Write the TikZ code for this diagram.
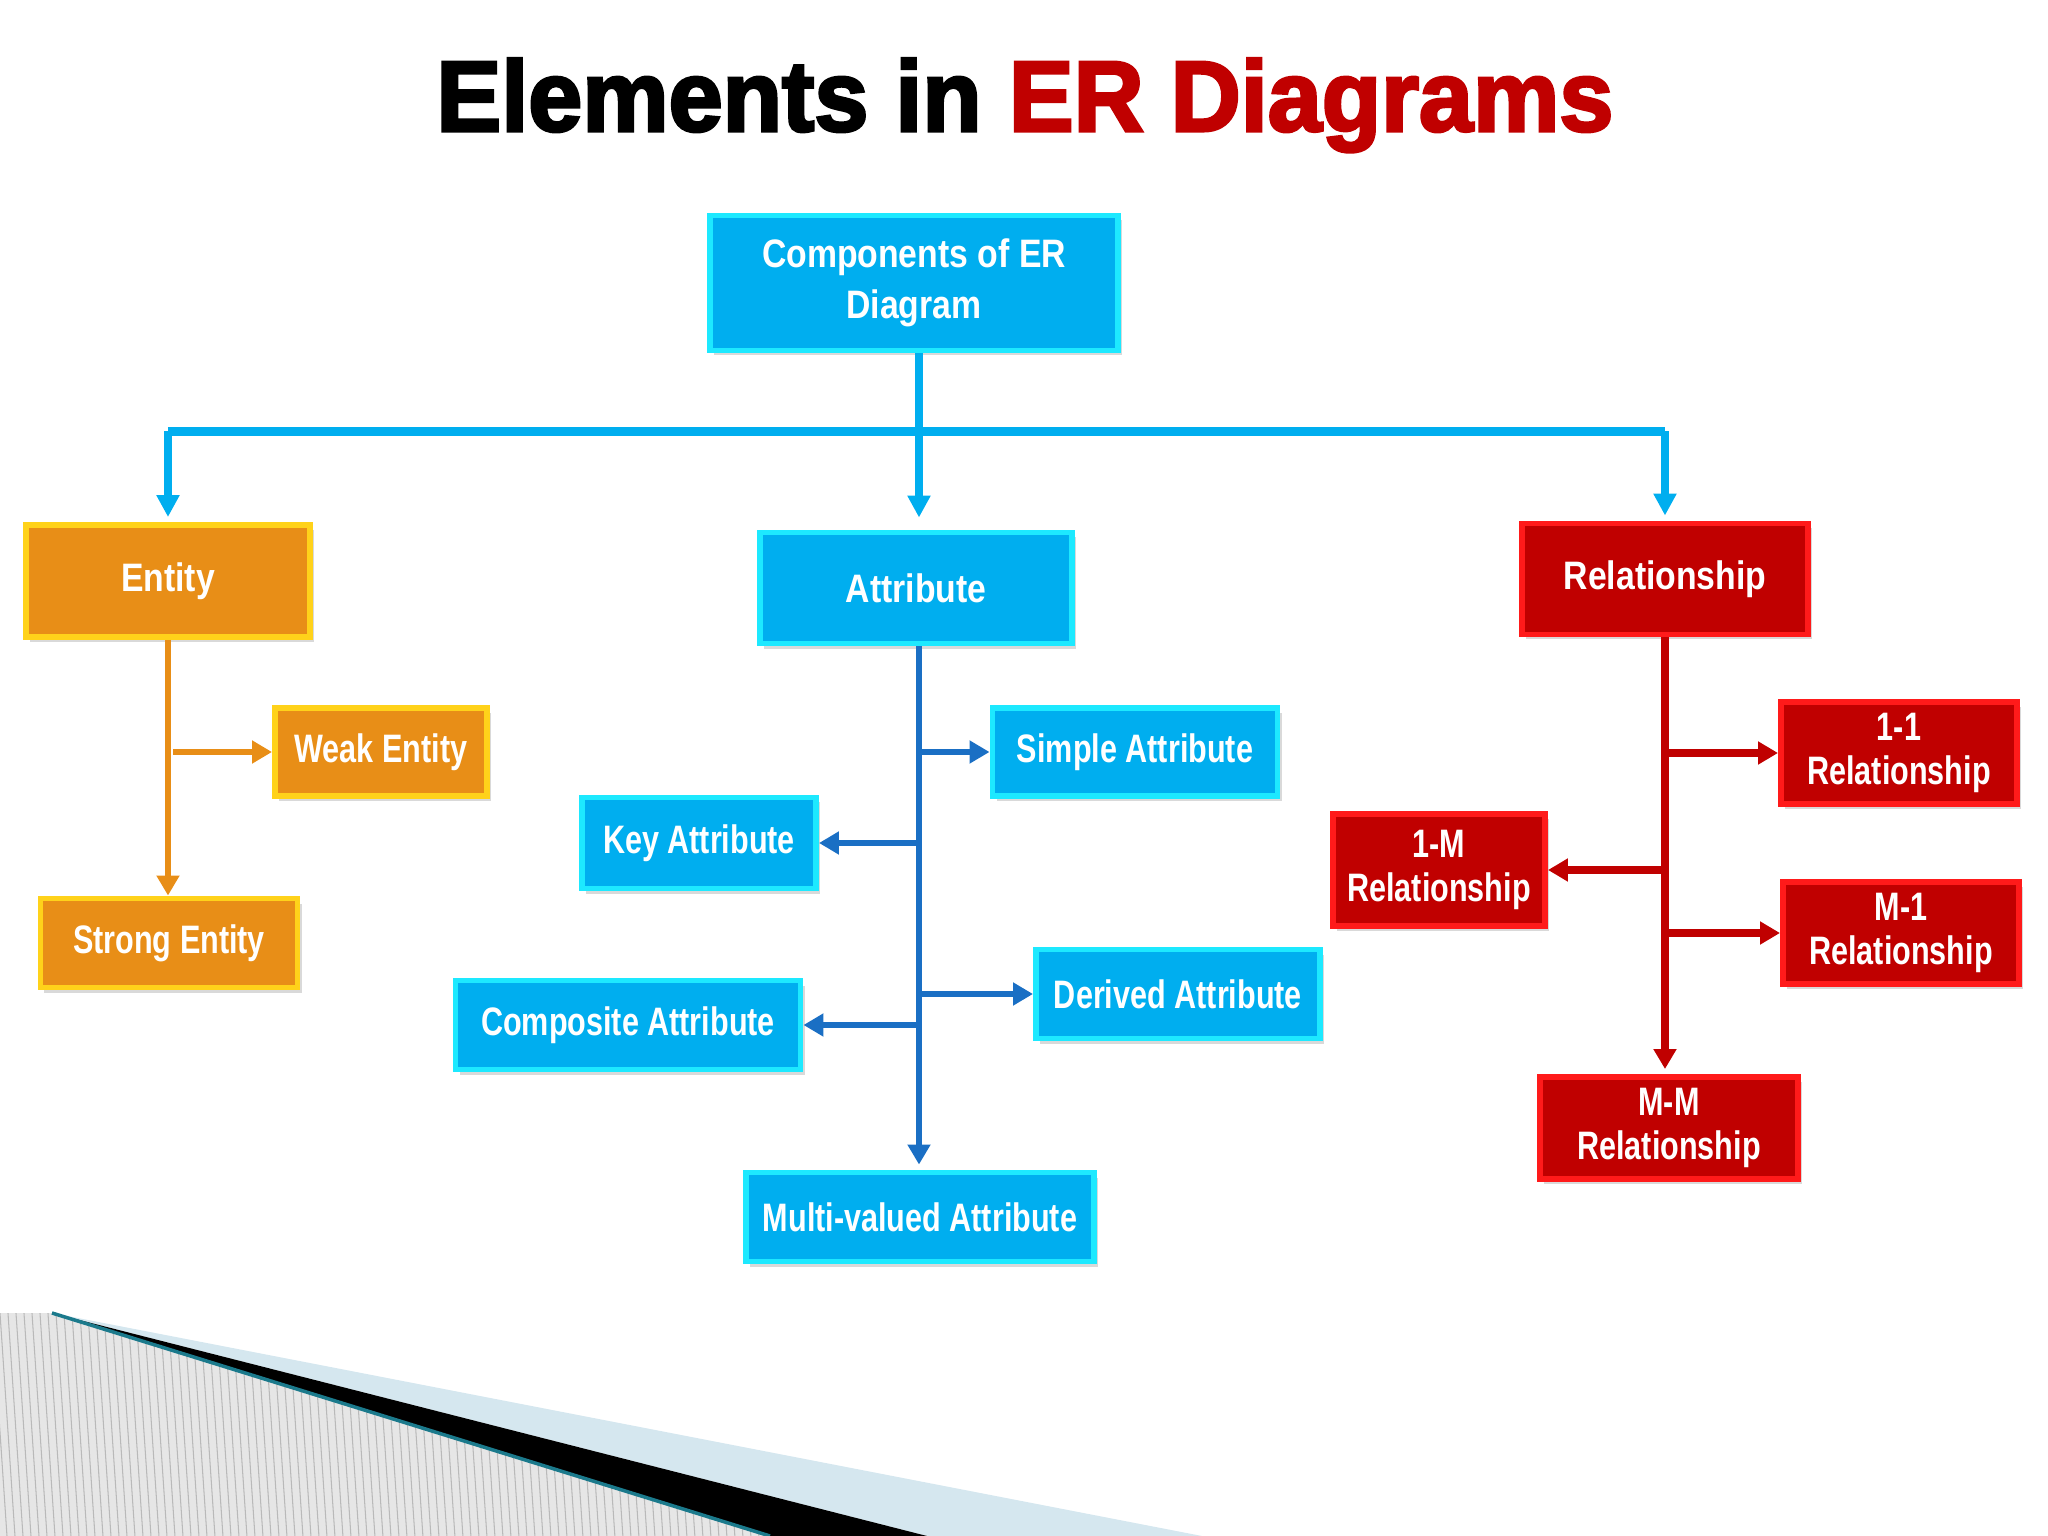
\documentclass[tikz,border=0pt]{standalone}
\usepackage{fontspec}
\setmainfont{Liberation Sans}
\newfontfamily\titlefont[FakeBold=3,FakeStretch=0.97]{Liberation Sans}
\newfontfamily\mainboxfont[FakeStretch=0.85]{Liberation Sans}
\newfontfamily\subboxfont[FakeStretch=0.77]{Liberation Sans}
\usetikzlibrary{arrows.meta,shadows}
\definecolor{erblue}{HTML}{00AEEF}
\definecolor{erbluerim}{HTML}{1DE9FF}
\definecolor{erdarkblue}{HTML}{1A6FC4}
\definecolor{erorange}{HTML}{E88E17}
\definecolor{erorangerim}{HTML}{FFD21A}
\definecolor{erred}{HTML}{C00000}
\definecolor{erredrim}{HTML}{FF1A1A}
\definecolor{erhatch}{HTML}{E6E6E6}
\definecolor{erpale}{HTML}{D5E7EF}
\definecolor{erteal}{HTML}{1B7A8C}
\begin{document}
\begin{tikzpicture}[
	box/.style={draw, line width=1.7pt, text=white, align=center, inner sep=0pt,
		drop shadow={shadow xshift=0.04cm, shadow yshift=-0.05cm, opacity=0.3}},
	mainbox/.style={box, font=\mainboxfont\bfseries\fontsize{11.3}{14.5}\selectfont},
	subbox/.style={box, font=\subboxfont\bfseries\fontsize{11.3}{12.6}\selectfont},
	bluebox/.style={fill=erblue, draw=erbluerim},
	orangebox/.style={fill=erorange, draw=erorangerim},
	redbox/.style={fill=erred, draw=erredrim},
	busline/.style={erblue, line width=2.3pt},
	busarrow/.style={busline, -{Triangle[length=0.22cm,width=0.22cm]}},
	attrline/.style={erdarkblue, line width=1.7pt},
	attrarrow/.style={attrline, -{Triangle[length=0.2cm,width=0.22cm]}},
	entline/.style={erorange, line width=1.7pt},
	entarrow/.style={entline, -{Triangle[length=0.2cm,width=0.22cm]}},
	relline/.style={erred, line width=2pt},
	relarrow/.style={relline, -{Triangle[length=0.2cm,width=0.22cm]}}
	]
	\useasboundingbox (0,0) rectangle (20.48,-15.36);
	% title
	\node[font=\titlefont\bfseries\fontsize{28.5}{30}\selectfont, anchor=base] (title) at (10.25,-1.31)
		{Elements in \textcolor{erred}{ER Diagrams}};
	% top level
	\node[mainbox, bluebox, minimum width=4.08cm, minimum height=1.35cm] (components) at (9.14,-2.83)
		{Components of ER\\Diagram};
	\node[mainbox, orangebox, minimum width=2.84cm, minimum height=1.12cm] (entity) at (1.68,-5.81) {Entity};
	\node[mainbox, bluebox, minimum width=3.12cm, minimum height=1.11cm] (attribute) at (9.16,-5.88) {Attribute};
	\node[mainbox, redbox, minimum width=2.86cm, minimum height=1.11cm] (relationship) at (16.65,-5.79) {Relationship};
	\draw[busline] ([xshift=0.05cm]components.south) -- ++(0,-0.78) coordinate (bus);
	\draw[busline] (bus -| entity.north) -- (bus -| relationship.north);
	\foreach \n in {entity,relationship}
	{
		\draw[busarrow] (bus -| \n.north) -- ([yshift=0.05cm]\n.north);
	}
	\draw[busarrow] (bus) -- ([yshift=0.12cm]bus |- attribute.north);
	% entity
	\begin{scope}
	\node[subbox, orangebox, minimum width=2.12cm, minimum height=0.88cm] (weak) at (3.81,-7.52) {Weak Entity};
	\node[subbox, orangebox, minimum width=2.57cm, minimum height=0.89cm] (strong) at (1.69,-9.43) {Strong Entity};
	\draw[entarrow] (entity.south) -- (entity.south |- strong.north);
	\draw[entarrow] ([xshift=0.05cm]entity.south |- weak.west) -- (weak.west);
	\end{scope}
	% attribute
	\begin{scope}
	\node[subbox, bluebox, minimum width=2.85cm, minimum height=0.88cm] (simple) at (11.35,-7.52) {Simple Attribute};
	\node[subbox, bluebox, minimum width=2.34cm, minimum height=0.91cm] (key) at (6.99,-8.43) {Key Attribute};
	\node[subbox, bluebox, minimum width=2.84cm, minimum height=0.89cm] (derived) at (11.78,-9.94) {Derived Attribute};
	\node[subbox, bluebox, minimum width=3.45cm, minimum height=0.89cm] (composite) at (6.28,-10.25) {Composite Attribute};
	\node[subbox, bluebox, minimum width=3.48cm, minimum height=0.89cm] (multi) at (9.20,-12.17) {Multi-valued Attribute};
	\draw[attrarrow] ([xshift=0.03cm]attribute.south) -- ([xshift=0.03cm,yshift=0.05cm]attribute.south |- multi.north);
	\foreach \n in {simple,derived}
	{
		\draw[attrarrow] ([xshift=0.03cm]attribute.south |- \n.west) -- (\n.west);
	}
	\foreach \n in {key,composite}
	{
		\draw[attrarrow] ([xshift=0.03cm]attribute.south |- \n.east) -- (\n.east);
	}
	\end{scope}
	% relationship
	\begin{scope}
	\node[subbox, redbox, minimum width=2.36cm, minimum height=1.02cm] (oneone) at (18.99,-7.53) {1-1\\Relationship};
	\node[subbox, redbox, minimum width=2.12cm, minimum height=1.12cm] (onemany) at (14.39,-8.70) {1-M\\Relationship};
	\node[subbox, redbox, minimum width=2.36cm, minimum height=1.02cm] (manyone) at (19.01,-9.33) {M-1\\Relationship};
	\node[subbox, redbox, minimum width=2.58cm, minimum height=1.02cm] (manymany) at (16.69,-11.28) {M-M\\Relationship};
	\draw[relarrow] (relationship.south) -- ([yshift=0.05cm]relationship.south |- manymany.north);
	\foreach \n in {oneone,manyone}
	{
		\draw[relarrow] (relationship.south |- \n.west) -- (\n.west);
	}
	\draw[relarrow] (relationship.south |- onemany.east) -- (onemany.east);
	\end{scope}
	% bottom corner
	\begin{scope}
	\fill[erpale] (0.52,-13.13) -- (12.02,-15.36) -- (9.27,-15.36) -- cycle;
	\fill[black] (0.52,-13.13) -- (9.27,-15.36) -- (7.7,-15.36) -- cycle;
	\begin{scope}
	\clip (0,-13.13) -- (0.52,-13.13) -- (7.7,-15.36) -- (0,-15.36) -- cycle;
	\fill[erhatch] (0,-13.13) rectangle (8,-15.36);
	\foreach \x in {-0.4,-0.32,...,7.8}
	{
		\draw[gray!55, line width=0.3pt] (\x,-13.13) -- ++(0.15,-2.23);
	}
	\end{scope}
	\draw[erteal, line width=1pt] (0.52,-13.13) -- (7.7,-15.36);
	\end{scope}
\end{tikzpicture}
\end{document}
